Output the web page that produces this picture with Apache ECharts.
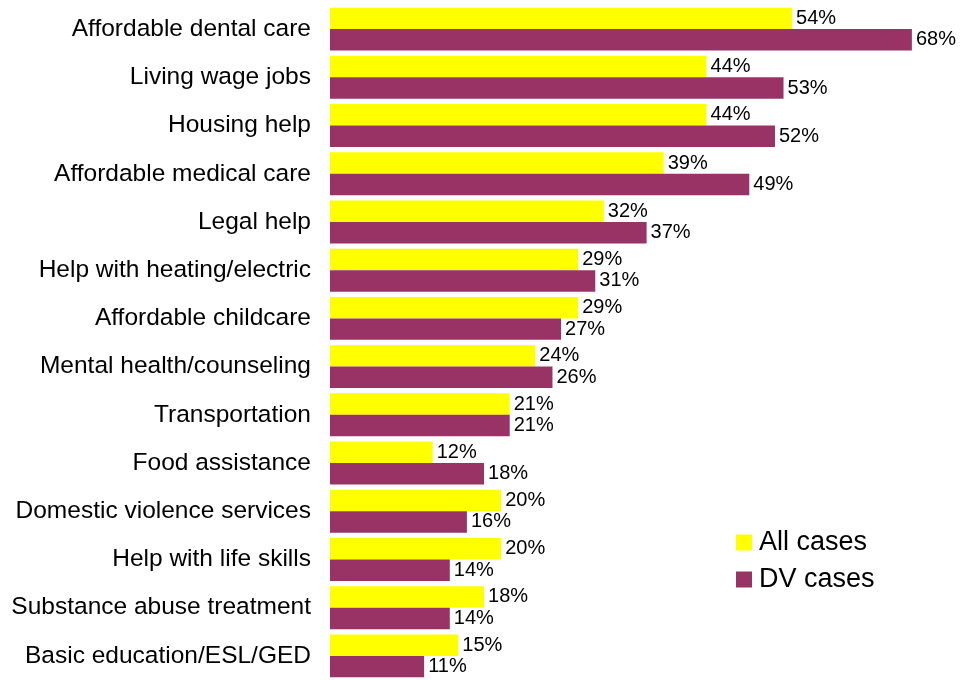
<!DOCTYPE html>
<html>
<head>
<meta charset="utf-8">
<style>
  html, body { margin: 0; padding: 0; background: #fff; }
  #chart { width: 962px; height: 680px; }
</style>
<script src="https://cdn.jsdelivr.net/npm/echarts@6/dist/echarts.min.js"></script>
</head>
<body>
<div id="chart"></div>
<script>
// Unmet needs, share of cases (%)
const categories = [
  'Affordable dental care',
  'Living wage jobs',
  'Housing help',
  'Affordable medical care',
  'Legal help',
  'Help with heating/electric',
  'Affordable childcare',
  'Mental health/counseling',
  'Transportation',
  'Food assistance',
  'Domestic violence services',
  'Help with life skills',
  'Substance abuse treatment',
  'Basic education/ESL/GED'
];
const allCases = [54, 44, 44, 39, 32, 29, 29, 24, 21, 12, 20, 20, 18, 15];
const dvCases  = [68, 53, 52, 49, 37, 31, 27, 26, 21, 18, 16, 14, 14, 11];

const chart = echarts.init(document.getElementById('chart'), null, { renderer: 'canvas' });

const FONT = 'Liberation Sans, Arial, sans-serif';
const valueLabel = {
  show: true,
  position: 'right',
  distance: 4,
  formatter: '{c}%',
  color: '#000',
  fontFamily: FONT,
  fontSize: 20
};

chart.setOption({
  animation: false,
  backgroundColor: '#fff',
  grid: { left: 330, top: 5, width: 599, height: 679, containLabel: false },
  legend: {
    orient: 'vertical',
    left: 736,
    top: 529,
    padding: 0,
    itemWidth: 16,
    itemHeight: 16,
    itemGap: 10,
    icon: 'rect',
    textStyle: { fontFamily: FONT, fontSize: 27, color: '#000', padding: [0, 0, 0, 2] },
    data: ['All cases', 'DV cases']
  },
  xAxis: {
    type: 'value',
    min: 0,
    max: 70,
    show: false
  },
  yAxis: {
    type: 'category',
    inverse: true,
    data: categories,
    axisLine: { show: false },
    axisTick: { show: false },
    axisLabel: { color: '#000', fontFamily: FONT, fontSize: 24.5, margin: 19 }
  },
  series: [
    {
      name: 'All cases',
      type: 'bar',
      data: allCases,
      barGap: '0%',
      barCategoryGap: '11%',
      itemStyle: { color: '#FFFF00' },
      label: valueLabel
    },
    {
      name: 'DV cases',
      type: 'bar',
      data: dvCases,
      barGap: '0%',
      barCategoryGap: '11%',
      itemStyle: { color: '#993366' },
      label: valueLabel
    }
  ]
});
</script>
</body>
</html>
